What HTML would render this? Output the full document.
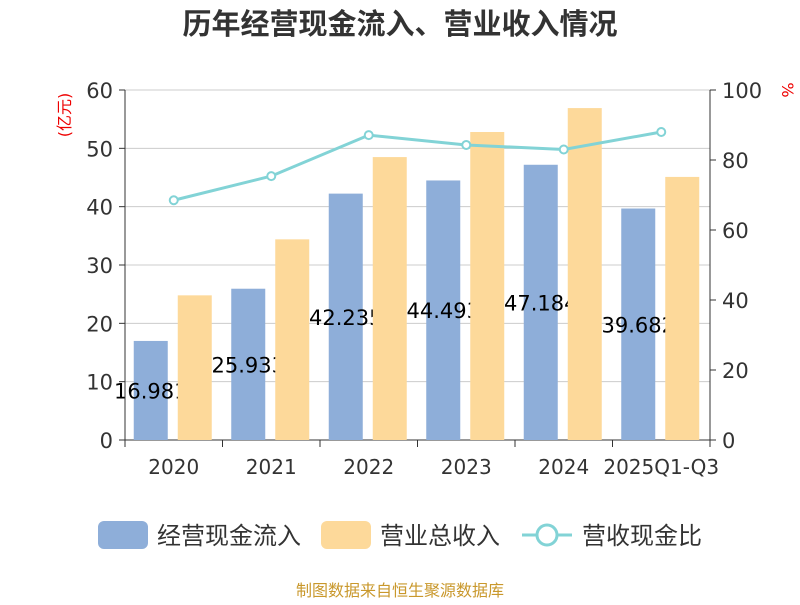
<!DOCTYPE html>
<html><head><meta charset="utf-8"><style>
body{margin:0;background:#fff;}
svg text{font-family:"DejaVu Sans","Noto Sans CJK SC",sans-serif;}
</style></head><body>
<svg id="c" width="800" height="600" xmlns="http://www.w3.org/2000/svg">
<text x="400" y="34" text-anchor="middle" font-size="29" font-weight="bold" fill="#333" style="font-family:'Liberation Sans','Noto Sans CJK SC',sans-serif">历年经营现金流入、营业收入情况</text>
<text transform="translate(70,115) rotate(-90)" text-anchor="middle" font-size="16" fill="#e00">(亿元)</text>
<text transform="translate(782,90) rotate(90)" text-anchor="middle" font-size="16" fill="#e00">%</text>
<g id="grid"></g><g id="bars"></g><g id="lbl"></g><g id="bars2"></g><g id="line"></g><g id="axes"></g>
<g>
<rect x="98" y="521" width="50" height="28" rx="6" fill="#8eaed9"/>
<text x="157" y="544" font-size="24" fill="#333">经营现金流入</text>
<rect x="321" y="521" width="50" height="28" rx="6" fill="#fdd99a"/>
<text x="380" y="544" font-size="24" fill="#333">营业总收入</text>
<line x1="522" y1="535" x2="572" y2="535" stroke="#82d3d6" stroke-width="3"/>
<circle cx="547" cy="535" r="10" fill="#fff" stroke="#82d3d6" stroke-width="3"/>
<text x="582" y="544" font-size="24" fill="#333">营收现金比</text>
</g>
<text x="400" y="596" text-anchor="middle" font-size="16" fill="#c9982c">制图数据来自恒生聚源数据库</text>
</svg>
<script>
const categories=["2020","2021","2022","2023","2024","2025Q1-Q3"];
const cashIn=[16.981,25.933,42.235,44.493,47.184,39.682];
const revenue=[24.8,34.4,48.5,52.8,56.9,45.1];
const ratio=[68.5,75.4,87.1,84.3,83.0,88.0];
const leftTicks=[0,10,20,30,40,50,60];
const rightTicks=[0,20,40,60,80,100];
const NS="http://www.w3.org/2000/svg";
const X0=125,X1=710,Y0=440,Y1=90;
const band=(X1-X0)/categories.length;
const cx=i=>X0+band*(i+0.5);
const yL=v=>Y0-(v/60)*(Y0-Y1);
const yR=v=>Y0-(v/100)*(Y0-Y1);
function mk(t,a,p){const e=document.createElementNS(NS,t);for(const k in a)e.setAttribute(k,a[k]);document.getElementById(p).appendChild(e);return e;}
leftTicks.forEach(v=>{
 const l=mk('line',{x1:X0,x2:X1,y1:yL(v),y2:yL(v),stroke:v?'#ccc':'#333','stroke-width':1},'grid');
 
 
 mk('line',{x1:X0-6,x2:X0,y1:yL(v),y2:yL(v),stroke:'#333'},'axes');
 const t=mk('text',{x:X0-12,y:yL(v)+8,'text-anchor':'end','font-size':21,fill:'#333'},'axes');t.textContent=v;
 
 
});
rightTicks.forEach(v=>{
 mk('line',{x1:X1,x2:X1+6,y1:yR(v),y2:yR(v),stroke:'#333'},'axes');
 const t=mk('text',{x:X1+12,y:yR(v)+8,'font-size':21,fill:'#333'},'axes');t.textContent=v;
 
 
});
mk('line',{x1:X0,x2:X0,y1:Y1,y2:Y0,stroke:'#333'},'axes');
mk('line',{x1:X1,x2:X1,y1:Y1,y2:Y0,stroke:'#333'},'axes');
for(let i=0;i<=categories.length;i++)mk('line',{x1:X0+band*i,x2:X0+band*i,y1:Y0,y2:Y0+7,stroke:'#333'},'axes');
categories.forEach((c,i)=>{
 const t=mk('text',{x:cx(i),y:Y0+34,'text-anchor':'middle','font-size':20,fill:'#333'},'axes');t.textContent=c;
 
 
 const b=mk('rect',{x:cx(i)-40,y:yL(cashIn[i]),width:34,height:Y0-yL(cashIn[i]),fill:'#8eaed9'},'bars');
 
 
 const l=mk('text',{x:cx(i)-23,y:(yL(cashIn[i])+Y0)/2+8,'text-anchor':'middle','font-size':21,fill:'#000'},'lbl');l.textContent=cashIn[i].toFixed(3);
 
 
 const r=mk('rect',{x:cx(i)+4,y:yL(revenue[i]),width:34,height:Y0-yL(revenue[i]),fill:'#fdd99a'},'bars2');
 
 
});
const pl=mk('polyline',{points:ratio.map((v,i)=>cx(i)+','+yR(v)).join(' '),fill:'none',stroke:'#82d3d6','stroke-width':3},'line');


ratio.forEach((v,i)=>{
 const p=mk('circle',{cx:cx(i),cy:yR(v),r:4,fill:'#fff',stroke:'#82d3d6','stroke-width':2},'line');
 
 
});
</script>
</body></html>
